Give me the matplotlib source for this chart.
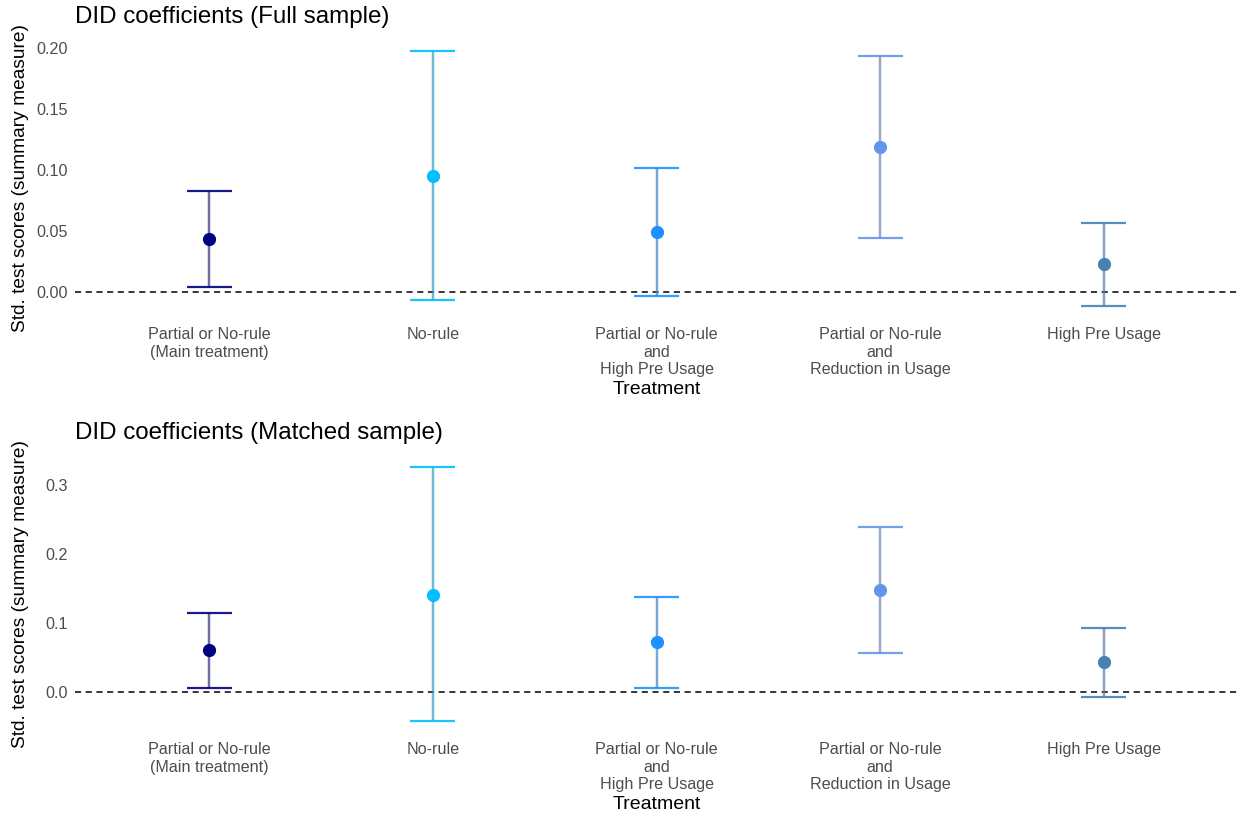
import matplotlib
matplotlib.use("Agg")
import matplotlib.pyplot as plt
import numpy as np

plt.rcParams['font.family'] = ['Liberation Sans', 'DejaVu Sans']

categories = ["Partial or No-rule\n(Main treatment)", "No-rule",
              "Partial or No-rule\nand\nHigh Pre Usage",
              "Partial or No-rule\nand\nReduction in Usage", "High Pre Usage"]
colors = ["#000080", "#00BFFF", "#1E90FF", "#6495ED", "#4682B4"]

full_est = [0.0434, 0.095, 0.049, 0.119, 0.023]
full_lo = [0.0041, -0.0066, -0.0033, 0.0443, -0.0115]
full_hi = [0.0828, 0.1975, 0.1016, 0.193, 0.057]

match_est = [0.0609, 0.1406, 0.0725, 0.148, 0.0435]
match_lo = [0.0058, -0.042, 0.0058, 0.0565, -0.0072]
match_hi = [0.1145, 0.326, 0.1377, 0.239, 0.0928]

full_ticks = [0.00, 0.05, 0.10, 0.15, 0.20]
full_ticklabels = ["0.00", "0.05", "0.10", "0.15", "0.20"]
match_ticks = [0.0, 0.1, 0.2, 0.3]
match_ticklabels = ["0.0", "0.1", "0.2", "0.3"]

fig = plt.figure(figsize=(12.38, 8.18), dpi=100)
W, H = 1238, 818


def panel(rect_px, est, lo, hi, ticks, ticklabels, title):
    l, t, r, b = rect_px
    ax = fig.add_axes([l / W, 1 - b / H, (r - l) / W, (b - t) / H])
    x = np.arange(1, len(categories) + 1)
    ax.axhline(0, color="black", lw=1.1, ls=(0, (4, 3)), zorder=1)
    for xi, e, lo_, hi_, c in zip(x, est, lo, hi, colors):
        ax.vlines(xi, lo_, hi_, color=c, lw=1.7, alpha=0.6, zorder=2)
        ax.vlines(xi, lo_, hi_, color="#808080", lw=1.7, alpha=0.35, zorder=2)
        ax.hlines([lo_, hi_], xi - 0.1, xi + 0.1, color=c, lw=1.6, alpha=0.9, zorder=2)
        ax.plot(xi, e, 'o', color=c, ms=8.5, zorder=3)
    ax.set_xlim(0.4, len(categories) + 0.6)
    rng = max(hi) - min(lo)
    ax.set_ylim(min(lo) - 0.05 * rng, max(hi) + 0.05 * rng)
    ax.set_xticks(x)
    ax.set_xticklabels(categories, color="#4D4D4D", fontsize=11.6, linespacing=1.2)
    ax.set_yticks(ticks)
    ax.set_yticklabels(ticklabels, color="#4D4D4D", fontsize=11.6)
    ax.tick_params(axis='x', length=0, pad=6)
    ax.tick_params(axis='y', length=0, pad=5)
    for s in ax.spines.values():
        s.set_visible(False)
    ax.set_xlabel("Treatment", fontsize=14, labelpad=3)
    ax.set_ylabel("Std. test scores (summary measure)", fontsize=13.8)
    ax.yaxis.set_label_coords(-(l - 29) / (r - l), 0.5)
    ax.set_title(title, loc="left", fontsize=17.4, pad=11)
    return ax


panel((75, 38, 1238, 319), full_est, full_lo, full_hi, full_ticks,
      full_ticklabels, "DID coefficients (Full sample)")
panel((75, 454, 1238, 734), match_est, match_lo, match_hi, match_ticks,
      match_ticklabels, "DID coefficients (Matched sample)")

fig.savefig("out.png", dpi=100)
